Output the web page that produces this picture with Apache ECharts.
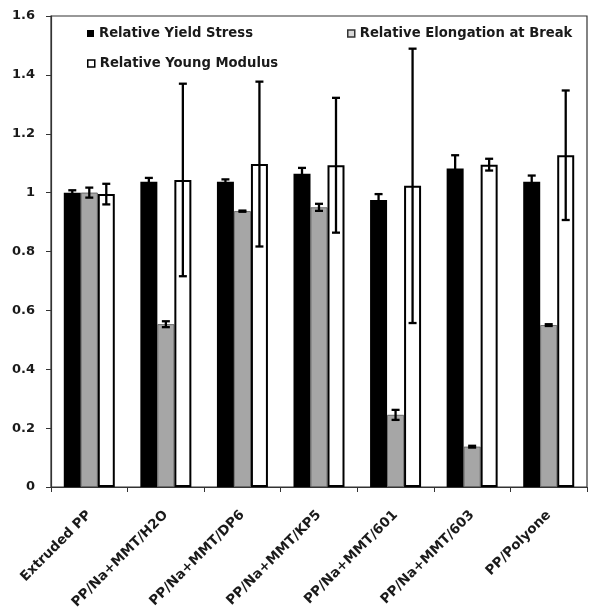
<!DOCTYPE html>
<html>
<head>
<meta charset="utf-8">
<script src="https://cdn.jsdelivr.net/npm/echarts@6/dist/echarts.min.js"></script>
<style>
html,body{margin:0;padding:0;background:#fff;}
#chart{width:591px;height:614px;}
</style>
</head>
<body>
<div id="chart"></div>
<script>
const categories = ['Extruded PP','PP/Na+MMT/H2O','PP/Na+MMT/DP6','PP/Na+MMT/KP5','PP/Na+MMT/601','PP/Na+MMT/603','PP/Polyone'];
const yieldStress = [1.00, 1.037, 1.037, 1.064, 0.975, 1.082, 1.037];
const yieldErr    = [0.008, 0.013, 0.008, 0.02, 0.02, 0.045, 0.021];
const elongation  = [1.00, 0.553, 0.937, 0.95, 0.245, 0.137, 0.55];
const elongErr    = [0.017, 0.01, 0.002, 0.012, 0.017, 0.003, 0.003];
const modulus     = [0.995, 1.043, 1.097, 1.093, 1.023, 1.095, 1.127];
const modulusErr  = [0.035, 0.327, 0.28, 0.229, 0.466, 0.02, 0.22];
const seriesNames = ['Relative Yield Stress','Relative Elongation at Break','Relative Young Modulus'];
const yTicks = {min:0, max:1.6, interval:0.2};

const BAR_W = 17;
const FONT = 'DejaVu Sans';

function errSeries(values, errs, idx){
  return {
    type:'custom',
    name:'err'+idx,
    z:10,
    silent:true,
    encode:{x:0, y:1},
    data: values.map((v,i)=>[i, v, errs[i]]),
    renderItem(params, api){
      const xi = api.value(0), v = api.value(1), e = api.value(2);
      const hi = api.coord([xi, v+e]);
      const lo = api.coord([xi, v-e]);
      const cx = hi[0] + (idx-1)*BAR_W;
      const cap = 4;
      const st = {stroke:'#000', lineWidth:2.3};
      return {type:'group', children:[
        {type:'line', shape:{x1:cx,y1:hi[1],x2:cx,y2:lo[1]}, style:st},
        {type:'line', shape:{x1:cx-cap,y1:hi[1],x2:cx+cap,y2:hi[1]}, style:st},
        {type:'line', shape:{x1:cx-cap,y1:lo[1],x2:cx+cap,y2:lo[1]}, style:st}
      ]};
    }
  };
}

const chart = echarts.init(document.getElementById('chart'), null, {renderer:'canvas'});
const legendText = {fontFamily:FONT, fontWeight:'bold', fontSize:13.2, color:'#1a1a1a'};
chart.setOption({
  backgroundColor:'#fff',
  animation:false,
  grid:{left:51, right:4, top:16, bottom:127, show:true, borderColor:'#333', borderWidth:1.2, backgroundColor:'transparent'},
  legend:[
    {data:[seriesNames[0]], left:82, top:22, itemWidth:7, itemHeight:7, icon:'rect', textStyle:legendText, selectedMode:false},
    {data:[{name:seriesNames[1], itemStyle:{color:'#d8d8d8', borderColor:'#333', borderWidth:1.5}}], left:342, top:22, itemWidth:7, itemHeight:7, icon:'rect', textStyle:legendText, selectedMode:false},
    {data:[{name:seriesNames[2], itemStyle:{color:'#fff', borderColor:'#000', borderWidth:1.5}}], left:82, top:52, itemWidth:7, itemHeight:7, icon:'rect', textStyle:legendText, selectedMode:false}
  ],
  xAxis:{
    type:'category',
    data:categories,
    axisLine:{lineStyle:{color:'#333', width:1.2}},
    axisTick:{show:true, length:5, lineStyle:{color:'#333'}},
    axisLabel:{rotate:45, interval:0, margin:26, fontFamily:FONT, fontWeight:'bold', fontSize:13.5, color:'#1a1a1a'}
  },
  yAxis:{
    type:'value',
    min:yTicks.min, max:yTicks.max, interval:yTicks.interval,
    splitLine:{show:false},
    axisLine:{show:true, lineStyle:{color:'#333', width:1.2}},
    axisTick:{show:true, length:5, lineStyle:{color:'#333'}},
    axisLabel:{margin:16, fontFamily:FONT, fontWeight:'bold', fontSize:13, color:'#1a1a1a'}
  },
  series:[
    {type:'bar', name:seriesNames[0], data:yieldStress, barWidth:BAR_W, barGap:'0%', itemStyle:{color:'#000'}},
    {type:'bar', name:seriesNames[1], data:elongation, barWidth:BAR_W, barGap:'0%', itemStyle:{color:'#a6a6a6', borderColor:'#555', borderWidth:0.8}},
    {type:'bar', name:seriesNames[2], data:modulus, barWidth:BAR_W, barGap:'0%', itemStyle:{color:'#fff', borderColor:'#000', borderWidth:2}},
    errSeries(yieldStress, yieldErr, 0),
    errSeries(elongation, elongErr, 1),
    errSeries(modulus, modulusErr, 2)
  ]
});
</script>
</body>
</html>
